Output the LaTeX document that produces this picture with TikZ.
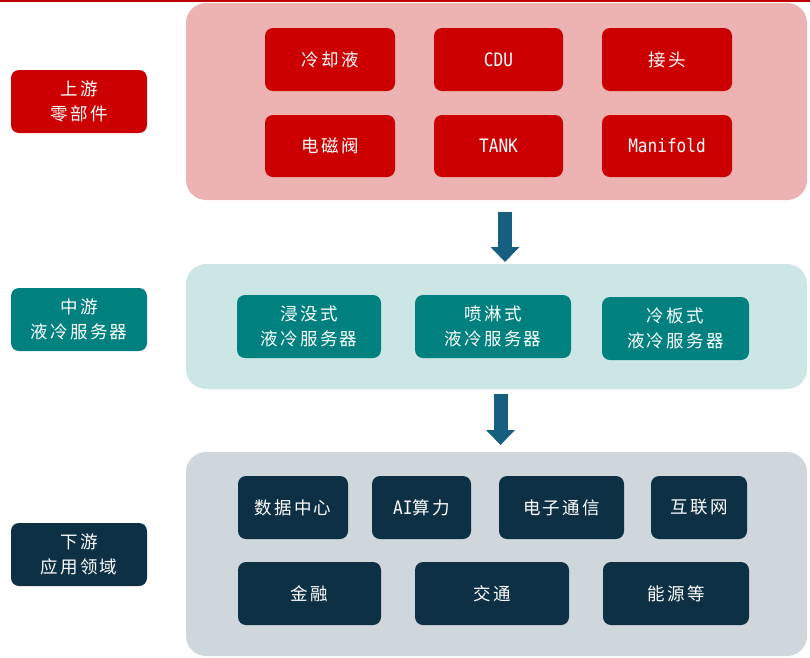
\documentclass[tikz,border=0pt]{standalone}
\usepackage{fontspec}
\setmainfont{Noto Sans CJK SC}[LetterSpace=13]
\newfontfamily\monofnt{DejaVu Sans Mono}[FakeStretch=0.87]
\usetikzlibrary{arrows.meta}
\definecolor{topline}{HTML}{C00000}
\definecolor{redbox}{HTML}{CC0000}
\definecolor{pinkband}{HTML}{EDB2B2}
\definecolor{tealbox}{HTML}{00807F}
\definecolor{tealband}{HTML}{CCE5E5}
\definecolor{navybox}{HTML}{0D3044}
\definecolor{greyband}{HTML}{CFD7DC}
\definecolor{arrowcol}{HTML}{175F80}
\tikzset{
  band/.style={rounded corners=20pt, inner sep=0pt, draw=none},
  box/.style={rounded corners=8pt, inner sep=0pt, text=white, align=center,
    font=\fontsize{17.5}{25}\selectfont, minimum height=63pt},
  redb/.style={box, fill=redbox},
  tealb/.style={box, fill=tealbox},
  navyb/.style={box, fill=navybox},
  latin/.style={font=\fontsize{18.5}{25}\selectfont\monofnt},
  bigarrow/.style={draw=arrowcol, line width=14pt,
    -{Triangle[length=15pt,width=28pt]}, arrowcol},
}
\begin{document}
\begin{tikzpicture}[x=1pt,y=-1pt]
\useasboundingbox (0,0) rectangle (810,657);
\fill[topline] (0,0) rectangle (810,2.2);
% bands
\node[band, fill=pinkband, minimum width=621pt, minimum height=197pt] (bandtop) at (496.5,101.5) {};
\node[band, fill=tealband, minimum width=621pt, minimum height=125pt] (bandmid) at (496.5,326.5) {};
\node[band, fill=greyband, minimum width=621pt, minimum height=204pt] (bandbot) at (496.5,554) {};
% left labels
\node[redb, minimum width=136pt] (lup) at (79,101.5) {上游\\零部件};
\node[tealb, minimum width=136pt] (lmid) at (79,319.5) {中游\\液冷服务器};
\node[navyb, minimum width=136pt] (ldown) at (79,554.5) {下游\\应用领域};
% top boxes
\node[redb, minimum width=130pt] (t1) at (330,59.5) {冷却液};
\node[redb, latin, minimum width=129pt] (t2) at (498.5,59.5) {CDU};
\node[redb, minimum width=130pt] (t3) at (667,59.5) {接头};
\node[redb, minimum width=130pt, minimum height=62pt] (t4) at (330,146) {电磁阀};
\node[redb, latin, minimum width=129pt, minimum height=62pt] (t5) at (498.5,146) {TANK};
\node[redb, latin, minimum width=130pt, minimum height=62pt] (t6) at (667,146) {Manifold};
% mid boxes
\node[tealb, minimum width=144pt] (m1) at (309,326.5) {浸没式\\液冷服务器};
\node[tealb, minimum width=156pt] (m2) at (493,326.5) {喷淋式\\液冷服务器};
\node[tealb, minimum width=147pt] (m3) at (675.5,328.5) {冷板式\\液冷服务器};
% bottom boxes
\node[navyb, minimum width=110pt] (b1) at (293,507.5) {数据中心};
\node[navyb, minimum width=99pt] (b2) at (421.5,507.5) {{\fontsize{18.5}{25}\selectfont\monofnt AI}算力};
\node[navyb, minimum width=125pt] (b3) at (561.5,507.5) {电子通信};
\node[navyb, minimum width=96pt] (b4) at (699,507.5) {互联网};
\node[navyb, minimum width=143pt] (b5) at (309.5,593.5) {金融};
\node[navyb, minimum width=154pt] (b6) at (492,593.5) {交通};
\node[navyb, minimum width=146pt] (b7) at (676,593.5) {能源等};
% arrows
\coordinate (a1s) at (505,212);
\coordinate (a1e) at (505,262);
\coordinate (a2s) at (500.5,394);
\coordinate (a2e) at (500.5,445);
\draw[bigarrow] (a1s) -- (a1e);
\draw[bigarrow] (a2s) -- (a2e);
\end{tikzpicture}
\end{document}
